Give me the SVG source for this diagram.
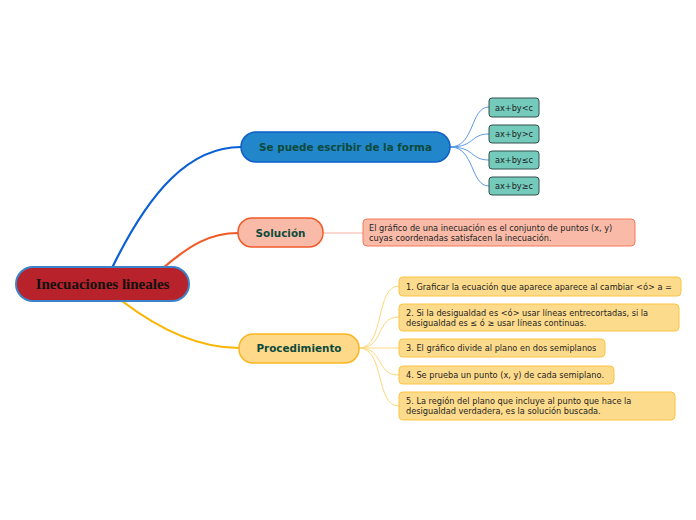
<svg xmlns="http://www.w3.org/2000/svg" width="696" height="520" viewBox="0 0 696 520">
<style>
.t{font-family:"DejaVu Sans","Verdana",sans-serif;font-size:8.2px;fill:#1f1f1f}
.m{font-family:"DejaVu Sans","Verdana",sans-serif;font-size:10.4px;font-weight:bold;fill:#0d4a3c;text-anchor:middle}
.leaf{fill:#74cbbc;stroke:#33514c;stroke-width:1}
.proc{fill:#fddb8c;stroke:#fbc443;stroke-width:1}
.thin{fill:none;stroke-width:1}
</style>
<rect width="696" height="520" fill="#ffffff"/>
<g id="connectors" fill="none">
<path d="M112,268 C150,190 190,147 241,147" stroke="#0a5fd6" stroke-width="2.2"/>
<path d="M163,268 C190,245 210,233 238,233" stroke="#f15a26" stroke-width="2.2"/>
<path d="M122,301 C160,330 200,348 239,348" stroke="#fbb400" stroke-width="2.2"/>
<g stroke="#5b99e6" class="thin">
<path d="M450,147 C475,147 470,107 489,107"/>
<path d="M450,147 C475,147 470,134 489,134"/>
<path d="M450,147 C475,147 470,160 489,160"/>
<path d="M450,147 C475,147 470,186 489,186"/>
</g>
<path d="M323,233 L363,233" stroke="#f7b1a0" class="thin"/>
<g stroke="#fcd77a" class="thin">
<path d="M359,348 C385,348 375,286 399,286"/>
<path d="M359,348 C385,348 375,317 399,317"/>
<path d="M359,348 C385,348 375,348 399,348"/>
<path d="M359,348 C385,348 375,375 399,375"/>
<path d="M359,348 C385,348 375,406 399,406"/>
</g>
</g>
<g id="root">
<rect x="16" y="267" width="173" height="34" rx="17" fill="#b8222a" stroke="#3d82c8" stroke-width="2"/>
<text x="102.5" y="289" text-anchor="middle" font-family="Liberation Serif,serif" font-size="15" font-weight="bold" fill="#111">Inecuaciones lineales</text>
</g>
<g id="forma">
<rect x="241" y="132" width="209" height="30" rx="15" fill="#2287ca" stroke="#0c5ec9" stroke-width="1.5"/>
<text class="m" x="345.5" y="151">Se puede escribir de la forma</text>
</g>
<g id="solucion">
<rect x="238" y="218" width="85" height="29" rx="14" fill="#f9bba8" stroke="#f05a28" stroke-width="1.5"/>
<text class="m" x="280.5" y="237">Solución</text>
</g>
<g id="procedimiento">
<rect x="239" y="334" width="120" height="29" rx="14" fill="#fed98a" stroke="#fbb621" stroke-width="1.5"/>
<text class="m" x="299" y="352">Procedimiento</text>
</g>
<g id="f1"><rect class="leaf" x="489" y="98" width="50" height="19" rx="3"/><text class="t" x="514" y="110.5" text-anchor="middle">ax+by&lt;c</text></g>
<g id="f2"><rect class="leaf" x="489" y="125" width="50" height="18" rx="3"/><text class="t" x="514" y="137" text-anchor="middle">ax+by&gt;c</text></g>
<g id="f3"><rect class="leaf" x="489" y="151" width="50" height="18" rx="3"/><text class="t" x="514" y="163" text-anchor="middle">ax+by≤c</text></g>
<g id="f4"><rect class="leaf" x="489" y="177" width="50" height="18" rx="3"/><text class="t" x="514" y="189" text-anchor="middle">ax+by≥c</text></g>
<g id="sol-text">
<rect x="363" y="219" width="272" height="27" rx="4" fill="#f9bba8" stroke="#f2795a" stroke-width="1"/>
<text class="t" x="369" y="231">El gráfico de una inecuación es el conjunto de puntos (x, y)</text>
<text class="t" x="369" y="241">cuyas coordenadas satisfacen la inecuación.</text>
</g>
<g id="p1"><rect class="proc" x="399" y="277" width="282" height="19" rx="4"/><text class="t" x="406" y="289.5">1. Graficar la ecuación que aparece aparece al cambiar &lt;ó&gt; a =</text></g>
<g id="p2"><rect class="proc" x="399" y="304" width="280" height="27" rx="4"/><text class="t" x="406" y="316">2. Si la desigualdad es &lt;ó&gt; usar líneas entrecortadas, si la</text><text class="t" x="406" y="326">desigualdad es ≤ ó ≥ usar líneas continuas.</text></g>
<g id="p3"><rect class="proc" x="399" y="339" width="206" height="18" rx="4"/><text class="t" x="406" y="351">3. El gráfico divide al plano en dos semiplanos</text></g>
<g id="p4"><rect class="proc" x="399" y="366" width="215" height="18" rx="4"/><text class="t" x="406" y="378">4. Se prueba un punto (x, y) de cada semiplano.</text></g>
<g id="p5"><rect class="proc" x="399" y="392" width="276" height="28" rx="4"/><text class="t" x="406" y="404">5. La región del plano que incluye al punto que hace la</text><text class="t" x="406" y="414">desigualdad verdadera, es la solución buscada.</text></g>
</svg>
